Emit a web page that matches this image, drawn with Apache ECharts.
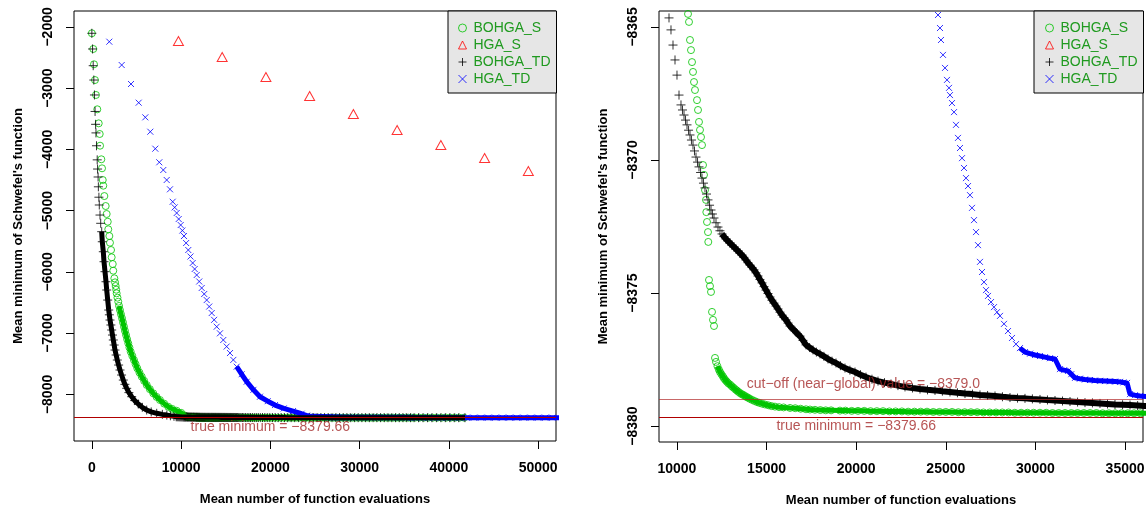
<!DOCTYPE html>
<html>
<head>
<meta charset="utf-8">
<script src="https://cdn.jsdelivr.net/npm/echarts@6/dist/echarts.min.js"></script>
<style>
html, body { margin: 0; padding: 0; background: #fff; }
#chart { width: 1146px; height: 512px; }
</style>
</head>
<body>
<div id="chart"></div>
<script>
var seriesNames = ['BOHGA_S', 'HGA_S', 'BOHGA_TD', 'HGA_TD'];
var trueMin = -8379.66;
var cutOff = -8379.0;
var leftXTicks = [0, 10000, 20000, 30000, 40000, 50000];
var leftYTicks = [-8000, -7000, -6000, -5000, -4000, -3000, -2000];
var rightXTicks = [10000, 15000, 20000, 25000, 30000, 35000];
var rightYTicks = [-8380, -8375, -8370, -8365];

// [mean evaluations, mean minimum]
var bohgaS = [
    [0,-2104],[160,-2360],[240,-2610],[350,-2867],[460,-3111],[610,-3345],[770,-3574],[880,-3748],[920,-3939],
    [1060,-4161],[1140,-4308],[1220,-4499],[1280,-4592],[1400,-4761],[1550,-4924],[1660,-5054],[1780,-5180],
    [1840,-5304],[1960,-5414],[2030,-5523],[2150,-5642],[2220,-5761],[2340,-5871],[2400,-5980],[2520,-6104],
    [2600,-6170],[2670,-6230],[2730,-6290],[2780,-6349],[2870,-6420],[2960,-6486],[3050,-6555],[3150,-6622],
    [3260,-6690],[3380,-6757],[3490,-6825],[3600,-6894],[3710,-6962],[3830,-7030],[3950,-7098],[4080,-7165],
    [4210,-7234],[4350,-7302],[4530,-7370],[4720,-7438],[4900,-7505],[5090,-7573],[5330,-7642],[5590,-7710],
    [5860,-7778],[6150,-7846],[6500,-7914],[6880,-7982],[7250,-8040],[7630,-8091],[8100,-8150],[8560,-8201],
    [9000,-8236],[9500,-8266],[10000,-8300],[10350,-8340],
    [10618,-8364.51],[10674,-8364.81],[10729,-8365.49],[10785,-8365.87],[10841,-8366.32],[10897,-8366.69],
    [10953,-8367.07],[11008,-8367.37],[11120,-8367.75],[11176,-8368.12],[11231,-8368.57],[11287,-8368.87],
    [11343,-8369.14],[11399,-8369.44],[11455,-8370.19],[11510,-8370.56],[11566,-8371.13],[11622,-8371.50],
    [11640,-8371.96],[11678,-8372.33],[11733,-8372.71],[11750,-8373.08],[11789,-8374.51],[11845,-8374.74],
    [11901,-8374.96],[11957,-8375.71],[12012,-8376.01],[12068,-8376.24],[12124,-8377.44],[12180,-8377.59],
    [12260,-8377.75],[12340,-8377.88],[12403,-8377.97],[12480,-8378.05],[12560,-8378.13],[12620,-8378.20],
    [12700,-8378.27],[12780,-8378.33],[12860,-8378.39],[12961,-8378.44],[13050,-8378.50],[13140,-8378.55],
    [13240,-8378.61],[13330,-8378.66],[13420,-8378.71],[13519,-8378.76],[13610,-8378.80],[13700,-8378.83],
    [13798,-8378.87],[13890,-8378.91],[13980,-8378.94],[14076,-8378.98],[14200,-8379.02],[14330,-8379.06],
    [14467,-8379.10],[14600,-8379.13],[14750,-8379.16],[14913,-8379.19],[15100,-8379.22],[15280,-8379.25],
    [15471,-8379.27],[15700,-8379.29],[15950,-8379.30],[16308,-8379.32],[16600,-8379.33],[16900,-8379.35],
    [17200,-8379.37],[17424,-8379.38],[17700,-8379.39],[18000,-8379.40],[18300,-8379.41],[18600,-8379.41],
    [19097,-8379.42],[19400,-8379.42],[19750,-8379.43],[20100,-8379.43],[20450,-8379.43],[20800,-8379.44],
    [21150,-8379.44],[21500,-8379.44],[21850,-8379.45],[22200,-8379.45],[22550,-8379.45],[22900,-8379.46],
    [23250,-8379.46],[23600,-8379.46],[23950,-8379.46],[24300,-8379.47],[24650,-8379.47],[25000,-8379.47],
    [25350,-8379.47],[25700,-8379.48],[26050,-8379.48],[26400,-8379.48],[26750,-8379.48],[27100,-8379.49],
    [27450,-8379.49],[27800,-8379.49],[28150,-8379.49],[28500,-8379.49],[28850,-8379.50],[29200,-8379.50],
    [29550,-8379.50],[29900,-8379.50],[30250,-8379.50],[30600,-8379.50],[30950,-8379.51],[31300,-8379.51],
    [31650,-8379.51],[32000,-8379.51],[32350,-8379.51],[32700,-8379.51],[33050,-8379.51],[33400,-8379.51],
    [33750,-8379.52],[34100,-8379.52],[34450,-8379.52],[34800,-8379.52],[35150,-8379.52],[35500,-8379.52],
    [35850,-8379.52],[36200,-8379.52],[36700,-8379.53],[37200,-8379.53],[37700,-8379.53],[38200,-8379.53],
    [38700,-8379.53],[39200,-8379.54],[39700,-8379.54],[40200,-8379.54],[40700,-8379.54],[41200,-8379.54],
    [41700,-8379.55]
];

var hgaS = [
    [9700,-2230],[14600,-2491],[19500,-2818],[24400,-3128],[29300,-3422],
    [34200,-3683],[39100,-3928],[44000,-4140],[48900,-4352]
];

var bohgaTD = [
    [0,-2104],[80,-2360],[150,-2633],[220,-2867],[290,-3111],[360,-3380],[420,-3590],[460,-3730],[520,-3940],
    [600,-4170],[640,-4320],[700,-4450],[730,-4610],[790,-4780],[834,-4907],[913,-5071],[991,-5206],[1103,-5343],
    [1170,-5507],[1283,-5670],[1361,-5833],[1473,-5996],[1585,-6160],[1663,-6295],[1775,-6459],[1888,-6622],
    [1960,-6700],[2033,-6785],[2130,-6866],[2224,-6948],[2310,-7030],[2403,-7111],[2500,-7193],[2593,-7275],
    [2720,-7356],[2851,-7438],[3000,-7520],[3153,-7601],[3330,-7683],[3523,-7765],[3700,-7835],[3904,-7900],
    [4150,-7970],[4464,-8037],[4800,-8100],[5203,-8156],[5650,-8210],[6145,-8254],[6650,-8285],[7265,-8308],
    [7900,-8325],[8400,-8337],[8800,-8348],[9200,-8357],[9450,-8364.2],
    [9558,-8364.66],[9669,-8365.11],[9781,-8365.68],[9893,-8366.24],[10004,-8366.81],[10116,-8367.56],
    [10227,-8367.93],[10310,-8368.12],[10395,-8368.31],[10480,-8368.50],[10562,-8368.68],[10650,-8368.88],
    [10729,-8369.06],[10810,-8369.25],[10897,-8369.44],[10980,-8369.66],[11064,-8369.89],[11150,-8370.08],
    [11231,-8370.26],[11320,-8370.47],[11399,-8370.68],[11480,-8370.87],[11566,-8371.05],[11650,-8371.28],
    [11733,-8371.50],[11820,-8371.70],[11901,-8371.88],[11980,-8372.03],[12068,-8372.18],[12180,-8372.36],
    [12291,-8372.52],[12400,-8372.66],[12514,-8372.78],[12620,-8372.88],[12737,-8372.97],[12850,-8373.05],
    [12960,-8373.12],[13070,-8373.20],[13184,-8373.27],[13300,-8373.35],[13407,-8373.42],[13520,-8373.50],
    [13630,-8373.57],[13740,-8373.66],[13853,-8373.76],[13960,-8373.86],[14076,-8373.95],[14190,-8374.04],
    [14300,-8374.13],[14410,-8374.24],[14523,-8374.36],[14630,-8374.49],[14746,-8374.62],[14860,-8374.76],
    [14969,-8374.89],[15080,-8375.02],[15192,-8375.15],[15300,-8375.27],[15415,-8375.38],[15530,-8375.49],
    [15639,-8375.60],[15750,-8375.72],[15862,-8375.83],[15970,-8375.92],[16085,-8376.01],[16200,-8376.13],
    [16308,-8376.24],[16450,-8376.34],[16587,-8376.43],[16720,-8376.53],[16866,-8376.62],[17030,-8376.78],
    [17201,-8376.95],[17400,-8377.05],[17591,-8377.14],[17780,-8377.22],[17982,-8377.29],[18200,-8377.38],
    [18428,-8377.48],[18650,-8377.56],[18874,-8377.63],[19120,-8377.73],[19376,-8377.82],[19650,-8377.90],
    [19934,-8377.97],[20240,-8378.07],[20547,-8378.16],[20880,-8378.24],[21217,-8378.31],[21580,-8378.37],
    [21942,-8378.42],[22330,-8378.48],[22723,-8378.53],[23140,-8378.57],[23560,-8378.61],[23980,-8378.64],
    [24397,-8378.66],[24810,-8378.69],[25233,-8378.72],[25650,-8378.75],[26070,-8378.78],[26490,-8378.80],
    [26907,-8378.83],[27330,-8378.85],[27744,-8378.87],[28160,-8378.90],[28580,-8378.93],[29000,-8378.95],
    [29417,-8378.96],[29830,-8378.98],[30254,-8379.00],[30670,-8379.02],[31091,-8379.04],[31510,-8379.06],
    [31928,-8379.08],[32350,-8379.10],[32764,-8379.12],[33180,-8379.13],[33601,-8379.15],[34020,-8379.17],
    [34438,-8379.19],[34860,-8379.20],[35275,-8379.21],[35700,-8379.23],[36100,-8379.25],[36600,-8379.26],
    [37100,-8379.28],[37600,-8379.29],[38100,-8379.31],[38600,-8379.32],[39100,-8379.33],[39600,-8379.35],
    [40100,-8379.36],[40600,-8379.37],[41100,-8379.38],[41800,-8379.40]
];

var hgaTD = [
    [1955,-2241],[3344,-2622],[4386,-2932],[5248,-3237],[5988,-3476],[6548,-3711],[7108,-3988],[7556,-4210],
    [8004,-4336],[8385,-4499],[8755,-4651],[9057,-4854],[9280,-4946],[9505,-5038],[9730,-5136],[9953,-5234],
    [10140,-5324],[10323,-5414],[10560,-5528],[10805,-5642],[11050,-5748],[11298,-5854],[11520,-5952],
    [11746,-6050],[12030,-6156],[12306,-6262],[12590,-6360],[12866,-6459],[13150,-6565],[13426,-6671],
    [13700,-6782],[13986,-6894],[14350,-7002],[14726,-7111],[15100,-7218],[15477,-7324],[15850,-7436],
    [16227,-7547],[16780,-7670],[17347,-7792],[18100,-7925],[18838,-8037],[19700,-8110],[20518,-8173],
    [21500,-8228],[22535,-8271],[23500,-8315],[24100,-8345],[24400,-8358],
    [24564,-8364.55],[24675,-8365.04],[24731,-8365.49],[24843,-8366.05],[24954,-8366.54],[25066,-8366.99],
    [25178,-8367.29],[25233,-8367.56],[25345,-8367.86],[25457,-8368.20],[25568,-8368.68],[25680,-8369.17],
    [25791,-8369.55],[25903,-8369.93],[26015,-8370.30],[26126,-8370.68],[26238,-8370.98],[26349,-8371.32],
    [26461,-8371.80],[26572,-8372.26],[26684,-8372.71],[26796,-8373.20],[26907,-8373.83],[27019,-8374.21],
    [27130,-8374.59],[27242,-8374.89],[27353,-8375.11],[27521,-8375.34],[27688,-8375.53],[27855,-8375.72],
    [28023,-8375.86],[28246,-8376.16],[28469,-8376.43],[28692,-8376.69],[28915,-8376.92],[29138,-8377.07],
    [29417,-8377.22],[29700,-8377.28],[29975,-8377.33],[30250,-8377.37],[30533,-8377.41],[30810,-8377.45],
    [31091,-8377.48],[31370,-8377.86],[31600,-8377.90],[31816,-8377.93],[32000,-8378.05],[32207,-8378.19],
    [32480,-8378.22],[32760,-8378.25],[33044,-8378.27],[33320,-8378.29],[33600,-8378.30],[33881,-8378.31],
    [34160,-8378.32],[34440,-8378.33],[34718,-8378.34],[34910,-8378.36],[35108,-8378.38],[35275,-8378.80],
    [35550,-8378.84],[35833,-8378.87],[36300,-8378.90],[37000,-8378.93],[37700,-8378.96],[38400,-8378.99],
    [39100,-8379.02],[39800,-8379.05],[40500,-8379.07],[41200,-8379.10],[42000,-8379.13],[42800,-8379.16],
    [43600,-8379.19],[44400,-8379.22],[45200,-8379.25],[46000,-8379.27],[46800,-8379.29],[47600,-8379.31],
    [48400,-8379.33],[49200,-8379.35],[50000,-8379.37],[50800,-8379.39],[51600,-8379.40],[52400,-8379.42]
];

var FONT = 'Liberation Sans, Arial, Helvetica, sans-serif';
var GREEN = '#00c400';
var LEGEND_TEXT = '#1f9a1f';
var BROWN = '#a52a2a';

function minus(v) {
    return String(v).replace('-', '\u2212');
}

// points from x0 on, used to fill the dense overlapping part of a series
function from(data, x0) {
    return data.filter(function (p) { return p[0] >= x0; });
}

var marks = {
    'BOHGA_S': { symbol: 'circle', size: 7, color: GREEN },
    'HGA_S': { symbol: 'triangle', size: [10, 9], color: '#ff0000' },
    'BOHGA_TD': { symbol: 'path://M0,5L10,5M5,0L5,10', size: 9, color: '#000000' },
    'HGA_TD': { symbol: 'path://M0,0L10,10M10,0L0,10', size: 6, color: '#0000ff' }
};

function pointSeries(name, data, idx) {
    var m = marks[name];
    return {
        name: name,
        type: 'scatter',
        xAxisIndex: idx,
        yAxisIndex: idx,
        data: data,
        symbol: m.symbol,
        symbolSize: m.size,
        itemStyle: { color: 'transparent', borderColor: m.color, borderWidth: 1 },
        emphasis: { disabled: true },
        silent: true,
        clip: true
    };
}

function bandSeries(data, idx, color, width) {
    return {
        name: 'band',
        type: 'line',
        xAxisIndex: idx,
        yAxisIndex: idx,
        data: data,
        symbol: 'none',
        showSymbol: false,
        lineStyle: { color: color, width: width },
        silent: true,
        clip: true
    };
}

function axisX(idx, min, max, ticks) {
    return {
        type: 'value', gridIndex: idx, min: min, max: max,
        name: 'Mean number of function evaluations',
        nameLocation: 'middle', nameGap: 52,
        nameTextStyle: { color: '#000', fontFamily: FONT, fontSize: 13, fontWeight: 'bold' },
        axisLine: { show: false, onZero: false },
        axisTick: { show: true, inside: false, length: 8, customValues: ticks, lineStyle: { color: '#000', width: 1 } },
        axisLabel: { customValues: ticks, margin: 20, color: '#000', fontFamily: FONT, fontSize: 14, fontWeight: 'bold', formatter: minus },
        splitLine: { show: false }
    };
}

function axisY(idx, min, max, ticks) {
    return {
        type: 'value', gridIndex: idx, min: min, max: max,
        name: 'Mean minimum of Schwefel\'s function',
        nameLocation: 'middle', nameGap: 49,
        nameTextStyle: { color: '#000', fontFamily: FONT, fontSize: 13, fontWeight: 'bold' },
        axisLine: { show: false, onZero: false },
        axisTick: { show: true, inside: false, length: 8, customValues: ticks, lineStyle: { color: '#000', width: 1 } },
        axisLabel: { customValues: ticks, rotate: 90, margin: 19, color: '#000', fontFamily: FONT, fontSize: 14, fontWeight: 'bold', formatter: minus },
        splitLine: { show: false }
    };
}

function legendAt(left, padLeft) {
    return {
        orient: 'vertical',
        left: left,
        top: 11,
        data: seriesNames,
        selectedMode: false,
        backgroundColor: '#e6e6e6',
        borderColor: '#000',
        borderWidth: 1,
        borderRadius: 0,
        padding: [10, 6, 7, padLeft],
        itemWidth: 8,
        itemHeight: 8,
        itemGap: 3,
        symbolKeepAspect: true,
        itemStyle: { borderWidth: 1 },
        textStyle: { color: LEGEND_TEXT, fontFamily: FONT, fontSize: 14, lineHeight: 14, padding: [0, 0, 0, 2] }
    };
}

var chart = echarts.init(document.getElementById('chart'), null, { renderer: 'canvas' });

var series = [
    // left panel
    bandSeries(from(bohgaS, 3000), 0, GREEN, 5),
    pointSeries('BOHGA_S', bohgaS, 0),
    pointSeries('HGA_S', hgaS, 0),
    bandSeries(from(hgaTD, 16000), 0, '#0000ff', 5),
    pointSeries('HGA_TD', hgaTD, 0),
    bandSeries(from(bohgaTD, 1100), 0, '#000', 5),
    pointSeries('BOHGA_TD', bohgaTD, 0),
    {
        name: 'annotLeft', type: 'scatter', xAxisIndex: 0, yAxisIndex: 0, z: 5, silent: true,
        symbolSize: 0,
        data: [[20000, trueMin]],
        label: { show: true, position: 'bottom', distance: 2, formatter: 'true minimum = \u22128379.66', color: BROWN, fontFamily: FONT, fontSize: 14 },
        markLine: {
            silent: true, symbol: ['none', 'none'], animation: false,
            label: { show: false },
            lineStyle: { color: '#b00000', width: 1, type: 'solid' },
            data: [{ yAxis: trueMin }]
        }
    },
    // right panel
    bandSeries(from(bohgaS, 12200), 1, GREEN, 5),
    pointSeries('BOHGA_S', bohgaS, 1),
    pointSeries('HGA_S', hgaS, 1),
    bandSeries(from(hgaTD, 29000), 1, '#0000ff', 5),
    pointSeries('HGA_TD', hgaTD, 1),
    bandSeries(from(bohgaTD, 12500), 1, '#000', 6),
    pointSeries('BOHGA_TD', bohgaTD, 1),
    {
        name: 'annotRight', type: 'scatter', xAxisIndex: 1, yAxisIndex: 1, z: 5, silent: true,
        symbolSize: 0,
        data: [
            { value: [20400, cutOff], label: { position: 'top', distance: 8, formatter: 'cut\u2212off (near\u2212global) value = \u22128379.0' } },
            { value: [20000, trueMin], label: { position: 'bottom', distance: 2, formatter: 'true minimum = \u22128379.66' } }
        ],
        label: { show: true, color: BROWN, fontFamily: FONT, fontSize: 14 },
        markLine: {
            silent: true, symbol: ['none', 'none'], animation: false,
            label: { show: false },
            data: [
                { yAxis: cutOff, lineStyle: { color: 'rgba(176,40,40,0.7)', width: 1, type: 'solid' } },
                { yAxis: trueMin, lineStyle: { color: '#b00000', width: 1, type: 'solid' } }
            ]
        }
    }
];

chart.setOption({
    animation: false,
    backgroundColor: '#fff',
    textStyle: { fontFamily: FONT },
    grid: [
        { left: 74, top: 11, width: 482, height: 430, show: true, borderColor: '#000', borderWidth: 1, backgroundColor: 'transparent', containLabel: false, outerBoundsMode: 'none' },
        { left: 659, top: 11, width: 484, height: 431, show: true, borderColor: '#000', borderWidth: 1, backgroundColor: 'transparent', containLabel: false, outerBoundsMode: 'none' }
    ],
    xAxis: [
        axisX(0, -2000, 52000, leftXTicks),
        axisX(1, 9000, 36000, rightXTicks)
    ],
    yAxis: [
        axisY(0, -8760, -1740, leftYTicks),
        axisY(1, -8380.6, -8364.4, rightYTicks)
    ],
    legend: [legendAt(448, 10), legendAt(1034, 11)],
    series: series
});
</script>
</body>
</html>
